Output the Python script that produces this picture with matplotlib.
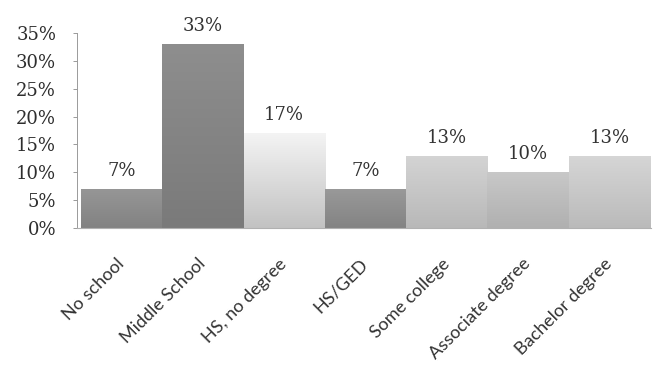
import numpy as np
import matplotlib
matplotlib.use("Agg")
import matplotlib.pyplot as plt
from matplotlib.colors import LinearSegmentedColormap

# Education level distribution
categories = ["No school", "Middle School", "HS, no degree", "HS/GED",
              "Some college", "Associate degree", "Bachelor degree"]
shares = [7, 33, 17, 7, 13, 10, 13]
y_ticks = [0, 5, 10, 15, 20, 25, 30, 35]

# Bar shading: (bottom colour, top colour)
bar_shades = [("#828282", "#969696"),
              ("#7a7a7a", "#8e8e8e"),
              ("#c2c2c2", "#f4f4f4"),
              ("#838383", "#999999"),
              ("#b8b8b8", "#d4d4d4"),
              ("#b0b0b0", "#c8c8c8"),
              ("#bababa", "#d6d6d6")]

fig = plt.figure(figsize=(6.6, 3.82), dpi=100)
ax = fig.add_axes([77 / 660, 1 - 228 / 382, (651 - 77) / 660, (228 - 33) / 382])

x = np.arange(len(categories))
bars = ax.bar(x, shares, width=1.0, color="none", edgecolor="none", zorder=2)

grad = np.linspace(0, 1, 256).reshape(-1, 1)
for rect, (c_bot, c_top) in zip(bars, bar_shades):
    cmap = LinearSegmentedColormap.from_list("shade", [c_bot, c_top])
    x0, y0 = rect.get_x(), rect.get_y()
    w, h = rect.get_width(), rect.get_height()
    im = ax.imshow(grad, cmap=cmap, origin="lower", aspect="auto",
                   extent=(x0, x0 + w, y0, y0 + h), zorder=2,
                   interpolation="bilinear")
    im.set_clip_path(rect)

ax.set_xlim(-0.549, 6.512)
ax.set_ylim(0, 35)

for rect, v in zip(bars, shares):
    ax.annotate(f"{v}%", xy=(rect.get_x() + rect.get_width() / 2, v),
                xytext=(0, 13), textcoords="offset points",
                ha="center", va="center", fontsize=13,
                family="DejaVu Serif", color="#333333")

ax.set_yticks(y_ticks)
ax.set_yticklabels([f"{t}%" for t in y_ticks], family="DejaVu Serif",
                   fontsize=13, color="#2e2e2e")
ax.tick_params(axis="y", direction="out", length=3, width=0.7,
               color="#9a9a9a", pad=12)

ax.set_xticks(x)
ax.set_xticklabels(categories, rotation=45, ha="right", va="center",
                   rotation_mode="anchor", family="Lato", fontsize=13,
                   color="#333333")
ax.tick_params(axis="x", length=0, pad=24)

for side in ("top", "right"):
    ax.spines[side].set_visible(False)
ax.spines["left"].set_color("#9a9a9a")
ax.spines["left"].set_linewidth(0.7)
ax.spines["bottom"].set_color("#b0b0b0")
ax.spines["bottom"].set_linewidth(0.8)
ax.set_facecolor("white")

fig.savefig("out.png", dpi=100, facecolor="white")
